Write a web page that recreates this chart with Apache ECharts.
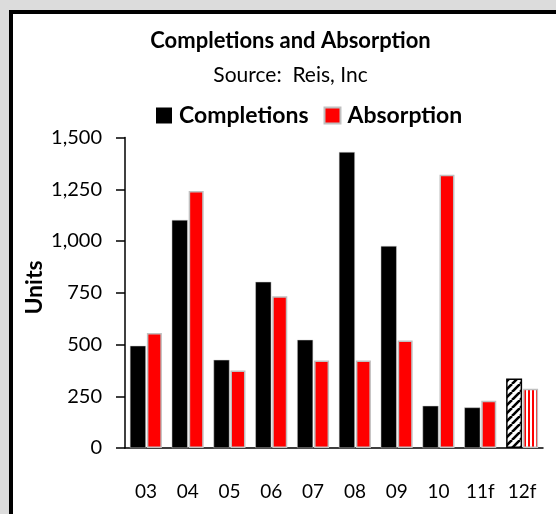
<!DOCTYPE html>
<html>
<head>
<meta charset="utf-8">
<script src="https://cdn.jsdelivr.net/npm/echarts@6/dist/echarts.min.js"></script>
<style>
  html, body { margin: 0; padding: 0; background: #dcdcdc; }
  #frame { position: absolute; left: 9px; top: 10px; width: 600px; height: 600px;
           border: 4px solid #000; background: #fff; }
  #chart { position: absolute; left: 0; top: 0; width: 556px; height: 514px; }
</style>
</head>
<body>
<div id="frame"></div>
<div id="chart"></div>
<script>
// Yearly completions vs absorption (units); 11f and 12f are forecasts
const years = ['03', '04', '05', '06', '07', '08', '09', '10', '11f', '12f'];
const completions = [494, 1102, 426, 803, 523, 1430, 976, 204, 196, 336];
const absorption = [556, 1242, 375, 733, 423, 423, 519, 1320, 228, 286];
const yTicks = [0, 250, 500, 750, 1000, 1250, 1500];

const FONT = 'Lato, "DejaVu Sans", sans-serif';

// Pattern fills for the forecast year
function diagonalHatch() {
  const c = document.createElement('canvas');
  c.width = 8; c.height = 8;
  const g = c.getContext('2d');
  g.fillStyle = '#fff'; g.fillRect(0, 0, 8, 8);
  g.strokeStyle = '#000'; g.lineWidth = 2.6;
  g.beginPath();
  for (let k = -8; k <= 16; k += 8) { g.moveTo(k, 8); g.lineTo(k + 8, 0); }
  g.stroke();
  return c;
}
function verticalStripes() {
  const c = document.createElement('canvas');
  c.width = 4; c.height = 4;
  const g = c.getContext('2d');
  g.fillStyle = '#fff'; g.fillRect(0, 0, 4, 4);
  g.fillStyle = '#ff0000'; g.fillRect(0, 0, 2, 4);
  return c;
}

const compData = completions.map((v, i) => i === years.length - 1
  ? { value: v, itemStyle: { color: { image: diagonalHatch(), repeat: 'repeat' }, borderColor: '#000', borderWidth: 1.5 } }
  : v);
const absData = absorption.map((v, i) => i === years.length - 1
  ? { value: v, itemStyle: { color: { image: verticalStripes(), repeat: 'repeat' } } }
  : v);

const chart = echarts.init(document.getElementById('chart'), null, { renderer: 'canvas' });
chart.setOption({
  animation: false,
  backgroundColor: 'transparent',
  legend: {
    top: 104, left: 156, padding: 0, itemGap: 15,
    itemWidth: 16, itemHeight: 16,
    textStyle: { fontFamily: FONT, fontWeight: 'bold', fontSize: 23, color: '#000', padding: [0, 0, 0, 2] },
    data: [
      { name: 'Completions', icon: 'rect', itemStyle: { color: '#000', borderWidth: 0 } },
      { name: 'Absorption', icon: 'rect', itemStyle: { color: '#ff0000', borderColor: '#c0c0c0', borderWidth: 2 } }
    ]
  },
  grid: { left: 125, right: 13, top: 137.5, bottom: 66, containLabel: false },
  xAxis: {
    type: 'category', data: years,
    axisLine: { lineStyle: { color: '#000', width: 1.5 } },
    axisTick: { show: false },
    axisLabel: { color: '#000', fontFamily: FONT, fontSize: 19, margin: 34 }
  },
  yAxis: {
    type: 'value', min: yTicks[0], max: yTicks[yTicks.length - 1], interval: 250,
    axisLine: { show: true, lineStyle: { color: '#000', width: 1.5 } },
    axisTick: { show: true, length: 9, lineStyle: { color: '#000', width: 1.5 } },
    splitLine: { show: false },
    axisLabel: {
      color: '#000', fontFamily: FONT, fontSize: 20, margin: 23,
      formatter: v => v.toLocaleString('en-US')
    }
  },
  graphic: [
    { type: 'text', x: 290.5, y: 41,
      style: { text: 'Completions and Absorption', font: 'bold 22px ' + FONT, fill: '#000',
               textAlign: 'center', textVerticalAlign: 'middle' } },
    { type: 'text', x: 290.5, y: 75.5,
      style: { text: 'Source:  Reis, Inc', font: '21px ' + FONT, fill: '#000',
               textAlign: 'center', textVerticalAlign: 'middle' } },
    { type: 'text', x: 35, y: 287.5, rotation: Math.PI / 2,
      style: { text: 'Units', font: 'bold 23px ' + FONT, fill: '#000',
               textAlign: 'center', textVerticalAlign: 'middle' } }
  ],
  series: [
    { name: 'Completions', type: 'bar', data: compData, barWidth: 16, barGap: '6%',
      itemStyle: { color: '#000', borderColor: '#d0d0d0', borderWidth: 0.5 } },
    { name: 'Absorption', type: 'bar', data: absData, barWidth: 15,
      itemStyle: { color: '#ff0000', borderColor: '#c0c0c0', borderWidth: 1.5 } }
  ]
});
</script>
</body>
</html>
